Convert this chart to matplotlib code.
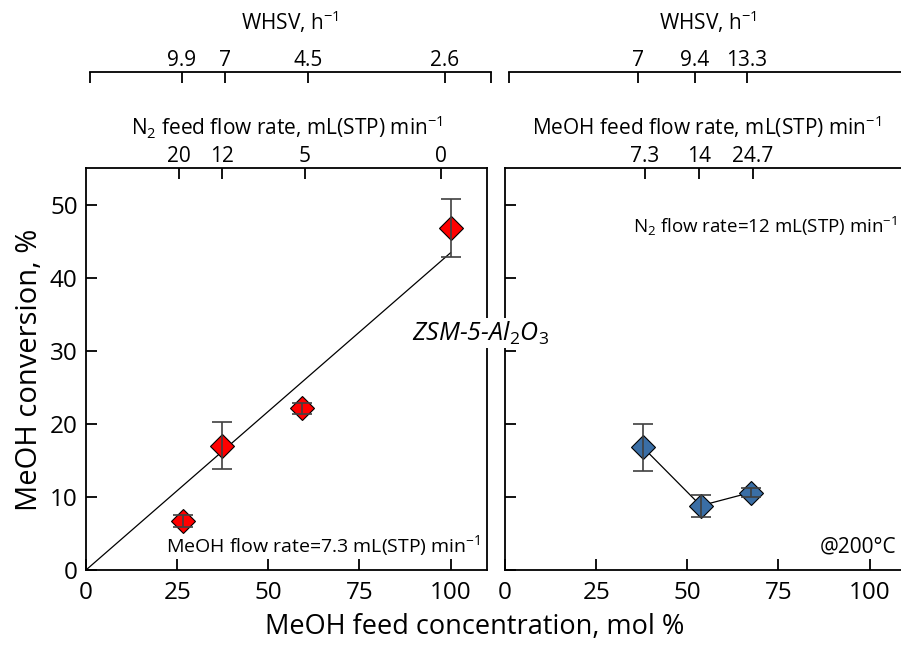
import matplotlib
matplotlib.use("Agg")
import matplotlib.pyplot as plt

plt.rcParams['font.family'] = 'Open Sans'
plt.rcParams['mathtext.fontset'] = 'custom'
plt.rcParams['mathtext.rm'] = 'Open Sans'
plt.rcParams['mathtext.it'] = 'Open Sans:italic'

# left panel - MeOH feed concentration set by N2 dilution
conc_n2 = [26.5, 37.4, 59.3, 100]
conv_n2 = [6.7, 17.0, 22.1, 46.8]
err_n2 = [0.8, 3.2, 0.7, 4.0]
fit_x = [0, 100]
fit_y = [0, 43.4]

n2_tick_pos = [25.4, 37.2, 60.1, 97.5]
n2_tick_lab = ["20", "12", "5", "0"]
whsv_left_pos = [25.1, 36.9, 59.8, 97.3]
whsv_left_lab = ["9.9", "7", "4.5", "2.6"]

# right panel - MeOH feed concentration set by MeOH flow
conc_meoh = [37.8, 53.7, 67.4]
conv_meoh = [16.8, 8.8, 10.6]
err_meoh = [3.2, 1.5, 0.6]
meoh_tick_pos = [38.4, 53.2, 67.9]
meoh_tick_lab = ["7.3", "14", "24.7"]
whsv_right_pos = [35.3, 51.0, 65.2]
whsv_right_lab = ["7", "9.4", "13.3"]

x_ticks = [0, 25, 50, 75, 100]
y_ticks = [0, 10, 20, 30, 40, 50]

W, H = 901, 648
fig = plt.figure(figsize=(W / 100, H / 100), dpi=100)

def px_box(x0, y_top, w, h):
    # axes box given in pixels from the top-left corner
    return [x0 / W, 1 - (y_top + h) / H, w / W, h / H]

axL = fig.add_axes(px_box(86, 168, 401, 402))
axR = fig.add_axes(px_box(505, 168, 401, 402))

for ax in (axL, axR):
    ax.set_xlim(0, 110)
    ax.set_ylim(0, 55)
    ax.set_xticks(x_ticks)
    ax.set_yticks(y_ticks)
    ax.tick_params(direction='in', length=8, width=1.3, labelsize=17.5, pad=6)
    ax.tick_params(axis='x', pad=8)
    for s in ax.spines.values():
        s.set_linewidth(1.3)

axR.tick_params(labelleft=False)

# data
axL.plot(fit_x, fit_y, color='black', lw=0.9, zorder=2)
axL.plot(conc_n2, conv_n2, ls='none', marker='D', ms=12, mfc='#ff0000',
         mec='black', mew=0.8, zorder=3)
axL.errorbar(conc_n2, conv_n2, yerr=err_n2, fmt='none', ecolor='#404040',
             elinewidth=1.2, capsize=7.5, capthick=1.2, zorder=4)

axR.plot(conc_meoh, conv_meoh, color='black', lw=0.9, marker='D', ms=12,
         mfc='#3a6ea5', mec='black', mew=0.8, zorder=3)
axR.errorbar(conc_meoh, conv_meoh, yerr=err_meoh, fmt='none', ecolor='#404040',
             elinewidth=1.2, capsize=7.5, capthick=1.2, zorder=4)

# top axes: N2 / MeOH feed flow rate on the box top spine
for ax, pos, lab in ((axL, n2_tick_pos, n2_tick_lab),
                     (axR, meoh_tick_pos, meoh_tick_lab)):
    top = ax.twiny()
    top.set_xlim(ax.get_xlim())
    top.set_xticks(pos)
    top.set_xticklabels(lab)
    top.tick_params(direction='in', length=8, width=1.3, labelsize=15, pad=1)
    for s in top.spines.values():
        s.set_visible(False)

# WHSV axes above
for x0, pos, lab in ((90, whsv_left_pos, whsv_left_lab),
                     (509, whsv_right_pos, whsv_right_lab)):
    wa = fig.add_axes(px_box(x0, 72, 401, 0.01))
    wa.set_xlim(0, 110)
    wa.set_ylim(0, 1)
    wa.patch.set_visible(False)
    for name, s in wa.spines.items():
        s.set_visible(name == 'top')
    wa.spines['top'].set_linewidth(1.3)
    wa.xaxis.tick_top()
    wa.set_xticks([0] + pos + [110])
    wa.set_xticklabels([""] + lab + [""])
    wa.tick_params(axis='x', direction='in', length=8, width=1.3, labelsize=15, pad=1)
    wa.set_yticks([])

fig.text(290 / W, 1 - 22 / H, r"WHSV, h$^{\mathregular{-1}}$", ha='center', va='center', fontsize=15)
fig.text(708 / W, 1 - 22 / H, r"WHSV, h$^{\mathregular{-1}}$", ha='center', va='center', fontsize=15)
fig.text(287 / W, 1 - 127 / H, r"N$_2$ feed flow rate, mL(STP) min$^{-1}$",
         ha='center', va='center', fontsize=15)
fig.text(707 / W, 1 - 127 / H, r"MeOH feed flow rate, mL(STP) min$^{-1}$",
         ha='center', va='center', fontsize=15)

fig.text(475 / W, 1 - 627 / H, "MeOH feed concentration, mol %",
         ha='center', va='center', fontsize=19.5)
fig.text(30 / W, 1 - 370 / H, "MeOH conversion, %", rotation=90,
         ha='center', va='center', fontsize=21)

axL.text(0.985, 0.03, r"MeOH flow rate=7.3 mL(STP) min$^{-1}$", transform=axL.transAxes,
         ha='right', va='bottom', fontsize=14)
fig.text(897 / W, 1 - 226 / H, r"N$_2$ flow rate=12 mL(STP) min$^{-1}$",
         ha='right', va='center', fontsize=13.5)
axR.text(0.975, 0.03, "@200°C", transform=axR.transAxes,
         ha='right', va='bottom', fontsize=15)

fig.text(480 / W, 1 - 333 / H, r"ZSM-5-Al$_2$O$_3$", ha='center', va='center',
         fontsize=18, style='italic', zorder=10,
         bbox=dict(facecolor='white', edgecolor='none', pad=1))

fig.savefig("out.png", dpi=100)
